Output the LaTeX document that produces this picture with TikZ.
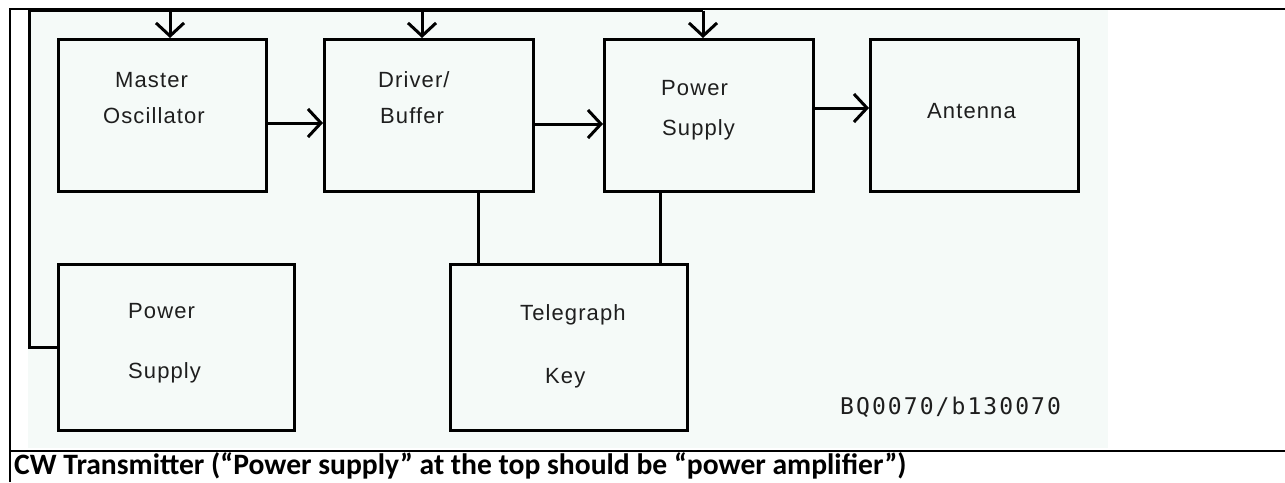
\documentclass[tikz,border=0pt]{standalone}
\usepackage{fontspec}
\usetikzlibrary{arrows.meta}
\newfontfamily\labfont[LetterSpace=5]{Liberation Sans}
\newfontfamily\monofont[LetterSpace=9]{DejaVu Sans Mono}
\newfontfamily\capfont{Carlito}
\definecolor{imgbg}{RGB}{245,250,248}
\definecolor{ink}{RGB}{30,30,30}
\tikzset{
  box/.style={draw=black, line width=3pt, minimum width=#1, inner sep=0pt, fill=imgbg},
  wire/.style={draw=black, line width=3pt},
  arr/.style={wire, -{Straight Barb[length=13pt, width=28pt, line width=3pt]}},
  lab/.style={anchor=base west, inner sep=0pt, text=ink, font=\labfont\fontsize{22}{26}\selectfont},
  border/.style={draw=black, line width=1.6pt},
}
\begin{document}
\begin{tikzpicture}[x=1pt, y=-1pt]
\useasboundingbox (0,0) rectangle (1285,482);
\fill[imgbg] (28,9) rectangle (1108,448);
\draw[border] (10,482) -- (10,9) -- (1285,9);
\draw[border] (10,451) -- (1285,451);

\node[box=208pt, minimum height=152pt] (mo) at (162.5,115.5) {};
\node[box=209pt, minimum height=152pt] (db) at (429,115.5) {};
\node[box=209pt, minimum height=152pt] (pa) at (709,115.5) {};
\node[box=208pt, minimum height=152pt] (ant) at (974.5,115.5) {};
\node[box=236pt, minimum height=166pt] (ps) at (176.5,347.5) {};
\node[box=237pt, minimum height=166pt] (key) at (569,347.5) {};

\node[lab] (t1a) at (115,87) {Master};
\node[lab] (t1b) at (103,123) {Oscillator};
\node[lab] (t2a) at (378,87) {Driver/};
\node[lab] (t2b) at (380,123) {Buffer};
\node[lab] (t3a) at (661,95) {Power};
\node[lab] (t3b) at (662,135) {Supply};
\node[lab] (t4) at (927,118) {Antenna};
\node[lab] (t5a) at (128,318) {Power};
\node[lab] (t5b) at (128,378) {Supply};
\node[lab] (t6a) at (520,320) {Telegraph};
\node[lab] (t6b) at (545,383) {Key};
\node[anchor=base west, inner sep=0pt, text=ink, font=\monofont\fontsize{23}{27}\selectfont] (code) at (840,414) {BQ0070/b130070};

\coordinate (cL) at (29.5,10.5);
\coordinate (cR) at (703,10.5);
\coordinate (c1) at (170,10.5);
\coordinate (c2) at (422,10.5);
\draw[wire] (ps.west) -| (cL) -- (cR);
\draw[arr] (c1) -- (mo.north -| c1);
\draw[arr] (c2) -- (db.north -| c2);
\draw[arr] (cR) -- (pa.north -| cR);

\draw[arr] ([yshift=-7.5pt]mo.east) -- ([yshift=-7.5pt]db.west);
\draw[arr] ([yshift=-8.5pt]db.east) -- ([yshift=-8.5pt]pa.west);
\draw[arr] ([yshift=7.5pt]pa.east) -- ([yshift=7.5pt]ant.west);

\draw[wire] ([xshift=49pt]db.south) -- ([xshift=49pt]db.south |- key.north);
\draw[wire] ([xshift=-49pt]pa.south) -- ([xshift=-49pt]pa.south |- key.north);

\node[anchor=base west, inner sep=0pt, font=\capfont\bfseries\fontsize{29.6}{34}\selectfont] (cap) at (14,474) {CW Transmitter (“Power supply” at the top should be “power amplifier”)};
\end{tikzpicture}
\end{document}
